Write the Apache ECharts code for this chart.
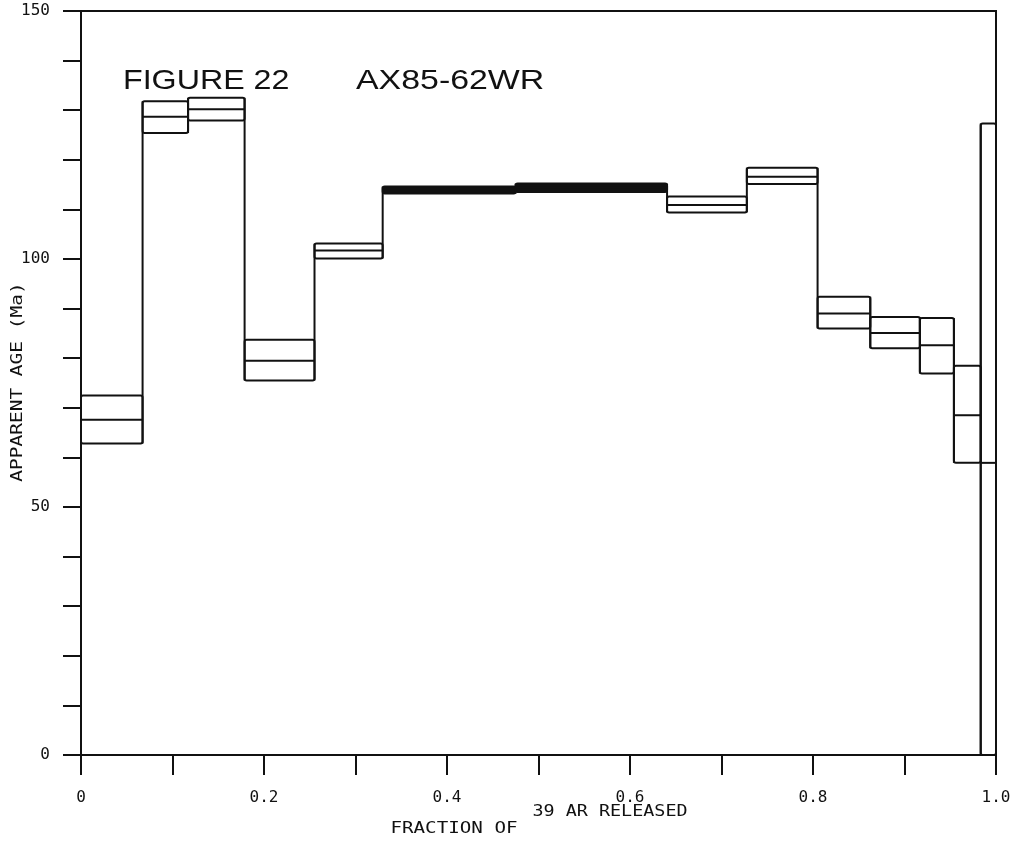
<!DOCTYPE html>
<html>
<head>
<meta charset="utf-8">
<script src="https://cdn.jsdelivr.net/npm/echarts@6/dist/echarts.min.js"></script>
<style>
html,body{margin:0;padding:0;background:#fff;}
#chart{width:1017px;height:842px;}
</style>
</head>
<body>
<div id="chart"></div>
<script>
// Step boundaries (cumulative fraction of 39Ar released)
const boundaries = [0, 0.0673, 0.117, 0.1788, 0.2552, 0.3297, 0.475, 0.6405, 0.7277, 0.805, 0.8626, 0.9168, 0.954, 0.9833, 1.0];
// Apparent ages (Ma): upper error, mean, lower error for each step
const highs = [72.5, 131.8, 132.5, 83.7, 103.1, 114.6, 115.2, 112.6, 118.4, 92.4, 88.3, 88.1, 78.5, 127.3];
const mids  = [67.6, 128.7, 130.2, 79.5, 101.7, 113.9, 114.4, 110.9, 116.6, 89.0, 85.1, 82.6, 68.5, 58.9];
const lows  = [62.8, 125.4, 127.9, 75.5, 100.1, 113.2, 113.5, 109.4, 115.1, 86.0, 82.0, 76.9, 58.9, 0];
// Tick labels
const xTickLabels = {0: '0', 2: '0.2', 4: '0.4', 6: '0.6', 8: '0.8', 10: '1.0'};
const yTickLabels = {0: '0', 50: '50', 100: '100', 150: '150'};

const stepData = boundaries.slice(0, -1).map((x0, i) => [x0, boundaries[i + 1], lows[i], mids[i], highs[i]]);

const INK = '#111';
const chart = echarts.init(document.getElementById('chart'));

function renderStep(params, api) {
  const i = params.dataIndex;
  const x0 = api.value(0), x1 = api.value(1);
  const lo = api.value(2), mi = api.value(3), hi = api.value(4);
  const tl = api.coord([x0, hi]);
  const br = api.coord([x1, lo]);
  const mc = api.coord([x0, mi]);
  const prevLo = i > 0 ? lows[i - 1] : lo;
  const prevHi = i > 0 ? highs[i - 1] : hi;
  const c0 = api.coord([x0, Math.min(lo, prevLo)]);
  const c1 = api.coord([x0, Math.max(hi, prevHi)]);
  const h = br[1] - tl[1];
  const st = {stroke: INK, lineWidth: 2, fill: 'none'};
  return {
    type: 'group',
    children: [
      {type: 'line', shape: {x1: c0[0], y1: c0[1], x2: c1[0], y2: c1[1]}, style: st},
      {type: 'rect', shape: {x: tl[0], y: tl[1], width: br[0] - tl[0], height: h, r: 2},
        style: {stroke: INK, lineWidth: 2, fill: h < 10 ? INK : 'none'}},
      {type: 'line', shape: {x1: tl[0], y1: mc[1], x2: br[0], y2: mc[1]}, style: st}
    ]
  };
}

const monoFont = '"DejaVu Sans Mono", "Liberation Mono", monospace';

chart.setOption({
  backgroundColor: '#fff',
  animation: false,
  grid: {left: 81, right: 21, top: 11, bottom: 87, show: true, borderColor: INK, borderWidth: 2, backgroundColor: 'transparent'},
  xAxis: {
    type: 'value', min: 0, max: 1, interval: 0.1,
    axisLine: {show: true, onZero: false, lineStyle: {color: INK, width: 2}},
    axisTick: {show: true, length: 20, lineStyle: {color: INK, width: 2}},
    splitLine: {show: false},
    axisLabel: {
      margin: 35, color: INK, fontSize: 16, fontFamily: monoFont,
      formatter: v => { const k = Math.round(v * 10); return xTickLabels[k] !== undefined ? xTickLabels[k] : ''; }
    }
  },
  yAxis: {
    type: 'value', min: 0, max: 150, interval: 10,
    axisLine: {show: true, lineStyle: {color: INK, width: 2}},
    axisTick: {show: true, length: 18, lineStyle: {color: INK, width: 2}},
    splitLine: {show: false},
    axisLabel: {
      margin: 31, color: INK, fontSize: 16, fontFamily: monoFont,
      formatter: v => { const k = Math.round(v); return yTickLabels[k] !== undefined ? yTickLabels[k] : ''; }
    }
  },
  series: [{
    type: 'custom',
    renderItem: renderStep,
    data: stepData,
    encode: {x: [0, 1], y: [2, 3, 4]},
    clip: false,
    z: 3
  }],
  graphic: [
    {type: 'text', x: 123, y: 81, scaleX: 1.15, style: {text: 'FIGURE 22', font: '28px "Liberation Sans", Arial, sans-serif', fill: INK, textAlign: 'left', textVerticalAlign: 'middle'}},
    {type: 'text', x: 356, y: 81, scaleX: 1.21, style: {text: 'AX85-62WR', font: '28px "Liberation Sans", Arial, sans-serif', fill: INK, textAlign: 'left', textVerticalAlign: 'middle'}},
    {type: 'text', x: 18, y: 382, rotation: Math.PI / 2, scaleX: 1.3, style: {text: 'APPARENT AGE (Ma)', font: '15px ' + monoFont, fill: INK, textAlign: 'center', textVerticalAlign: 'middle'}},
    {type: 'text', x: 454, y: 829, scaleX: 1.2, style: {text: 'FRACTION OF', font: '16px ' + monoFont, fill: INK, textAlign: 'center', textVerticalAlign: 'middle'}},
    {type: 'text', x: 610, y: 812, scaleX: 1.15, style: {text: '39 AR RELEASED', font: '16px ' + monoFont, fill: INK, textAlign: 'center', textVerticalAlign: 'middle'}}
  ]
});
</script>
</body>
</html>
